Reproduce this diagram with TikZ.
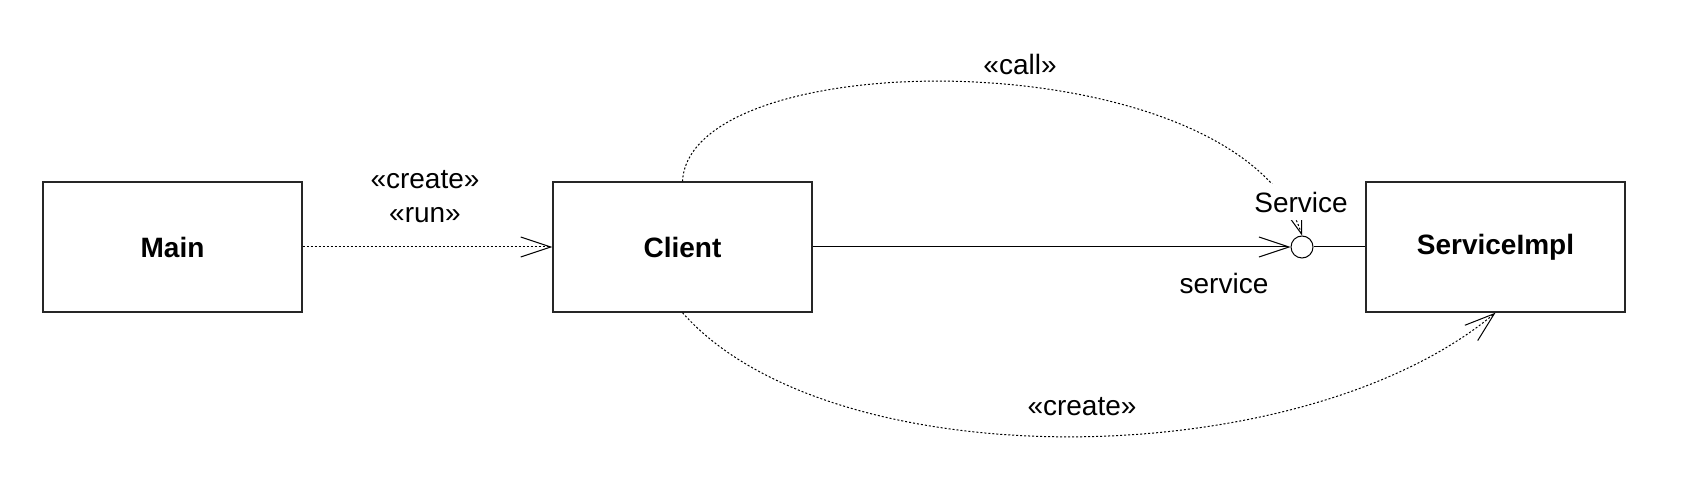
\documentclass[tikz,border=0pt]{standalone}
\usepackage{fontspec}
\setmainfont{Liberation Sans}
\usetikzlibrary{arrows.meta}
\begin{document}
\begin{tikzpicture}[x=0.5pt,y=-0.5pt,
  font=\fontsize{14pt}{16pt}\selectfont,
  box/.style={draw=black!85, line width=0.7pt, minimum width=129.5pt, minimum height=65pt, font=\fontsize{14pt}{16pt}\selectfont\bfseries, inner sep=0pt},
  lbl/.style={inner sep=1pt},
  vtip/.style={-{Straight Barb[length=15pt,width=10pt,line width=0.5pt]}},
  dep/.style={vtip, line width=0.5pt, dash pattern=on 1pt off 1pt},
  assoc/.style={vtip, line width=0.5pt},
  plain/.style={line width=0.5pt}]
\useasboundingbox (0,0) rectangle (1702,496);
\node[box] (main) at (172.5,247) {Main};
\node[box] (client) at (682.5,247) {Client};
\node[box] (impl) at (1495.5,247) {ServiceImpl};
\node[circle, draw, line width=0.5pt, minimum size=11pt, inner sep=0pt] (iface) at (1302,247) {};
\draw[dep] (main) -- (client);
\draw[assoc] (client) -- (iface);
\draw[plain] (iface) -- (impl);
\draw[dep] (client.north) .. controls (690,40) and (1240,40) .. (iface.north);
\draw[dep] (client.south) .. controls (830,480) and (1300,476) .. (impl.south);
\node[lbl] (lcreate) at (425,180) {«create»};
\node[lbl] (lrun) at (425,215) {«run»};
\node[lbl] (lcall) at (1020,64) {«call»};
\node[lbl, fill=white, inner ysep=4pt] (lservice) at (1301,202) {Service};
\node[lbl] (lrole) at (1224,283) {service};
\node[lbl] (lcreate2) at (1082,407) {«create»};
\end{tikzpicture}
\end{document}
